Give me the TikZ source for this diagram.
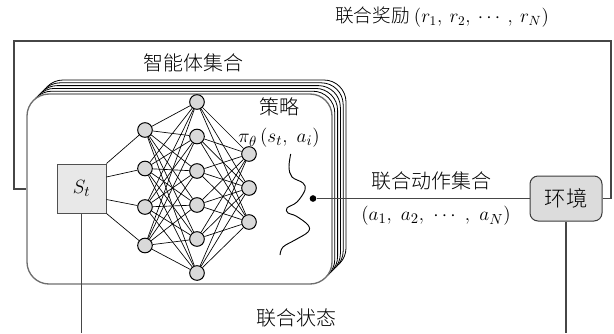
\documentclass[tikz,border=0pt]{standalone}
\usepackage{fontspec}
\IfFontExistsTF{Noto Sans CJK SC Light}
  {\newfontfamily\cjk{Noto Sans CJK SC Light}}
  {\newfontfamily\cjk{Noto Sans CJK SC}}
\usetikzlibrary{calc}

\tikzset{every picture/.style={line width=0.75pt}}
\tikzset{
  neuron/.style={circle, draw, fill={rgb, 255:red, 217; green, 217; blue, 217}, minimum size=11pt, inner sep=0pt},
  netline/.style={line width=0.5pt},
  stackbox/.style={draw, fill=white, line width=0.6pt, rounded corners=16.5pt},
  wire/.style={draw={rgb, 255:red, 70; green, 70; blue, 70}, line width=0.8pt},
  cjklabel/.style={font=\cjk\fontsize{15}{18}\selectfont, inner sep=1pt}
}

\begin{document}
\begin{tikzpicture}[x=0.75pt,y=0.75pt,yscale=-1,xscale=1]
\useasboundingbox (0,0) rectangle (614,333);

%Stack of agent boxes
\foreach \k in {5,4,...,1}
  \draw[stackbox] (27+2.8*\k,94-2.8*\k) rectangle (332+2.8*\k,284-2.8*\k);
%Front agent box
\node[draw={rgb, 255:red, 110; green, 110; blue, 110}, fill=white, line width=1pt, rounded corners=16.5pt,
      minimum width=228.75pt, minimum height=142.5pt, inner sep=0pt] (agents) at (179.5,189) {};

%State box
\node[draw={rgb, 255:red, 80; green, 80; blue, 80}, fill={rgb, 255:red, 232; green, 232; blue, 232},
      minimum size=36.75pt, inner sep=0pt, font=\fontsize{15}{18}\selectfont] (St) at (81.5,188.5) {$S_t$};

%Environment box
\node[draw={rgb, 255:red, 60; green, 60; blue, 60}, fill={rgb, 255:red, 220; green, 220; blue, 220},
      rounded corners=6pt, minimum width=54pt, minimum height=33.75pt, inner sep=0pt,
      font=\cjk\fontsize{16}{18}\selectfont] (env) at (566,198.5) {环境};

%Neurons
\foreach \y [count=\i] in {130,168.5,207,245.5}
  \node[neuron] (a\i) at (145,\y) {};
\foreach \y [count=\i] in {102,136.5,171,205,239,273}
  \node[neuron] (b\i) at (197,\y) {};
\foreach \y [count=\i] in {154,188,222}
  \node[neuron] (c\i) at (249,\y) {};

%Links
\foreach \f [count=\i] in {0,0.27,0.72,1}
  \draw[netline] ($(St.north east)!\f!(St.south east)$) -- (a\i);
\foreach \i in {1,...,4}
  \foreach \j in {1,...,6}
    \draw[netline] (a\i) -- (b\j);
\foreach \i in {1,...,6}
  \foreach \j in {1,...,3}
    \draw[netline] (b\i) -- (c\j);

%Policy
\node[cjklabel] (policy) at (279,107) {策略};
\node[font=\fontsize{15}{18}\selectfont, inner sep=1pt] (pi) at (279,138) {$\pi_\theta\,(s_t,\ a_i)$};
\draw[netline, line width=0.7pt] plot[smooth, tension=0.6] coordinates {(290.7,154) (289,167) (292,177) (303,183) (305,190) (297,202) (287,208) (288,213) (296,216) (308,225) (308,232) (295,240) (283,247) (280,255)};

%Joint actions
\node[circle, fill, inner sep=0pt, minimum size=5pt] (act) at (313,198.5) {};
\draw[wire] (act) -- (env);
\node[cjklabel] (actlbl) at (431,181) {联合动作集合};
\node[font=\fontsize{15}{18}\selectfont, inner sep=1pt] (actset) at (436,216) {$(a_1,\ a_2,\ \cdots\ ,\ a_N)$};

%Joint reward
\coordinate (fbR) at (611,41);
\coordinate (fbL) at (14,41);
\draw[wire] (env.east) -| (fbR) -- (fbL) |- (agents.west);
\node[cjklabel, font=\cjk\fontsize{14}{18}\selectfont] (reward) at (442,17) {联合奖励 $(r_1,\ r_2,\ \cdots\ ,\ r_N)$};

\node[cjklabel] (agentlbl) at (193,63) {智能体集合};

%Joint state
\coordinate (stB) at (81.5,333);
\coordinate (envB) at (566,333);
\draw[wire] (St.south) -- (stB);
\draw[wire] (env.south) -- (envB);
\node[cjklabel] (state) at (296,318) {联合状态};

\end{tikzpicture}
\end{document}
